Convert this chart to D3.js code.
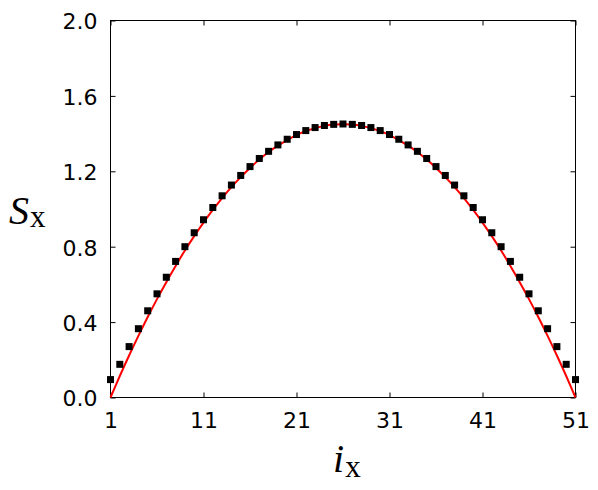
<!DOCTYPE html>
<html>
<head>
<meta charset="utf-8">
<script src="https://cdn.jsdelivr.net/npm/d3@7"></script>
<style>
html,body{margin:0;padding:0;background:#fff;}
svg{display:block;}
</style>
</head>
<body>
<svg id="chart" width="598" height="490"></svg>
<script>
// ---- data ----
const sites = d3.range(1, 52);   // i_x = 1..51
const pointValues = [
  0.095, 0.176, 0.270, 0.365, 0.460, 0.550, 0.638, 0.722, 0.800, 0.874,
  0.943, 1.008, 1.070, 1.127, 1.178, 1.225, 1.268, 1.306, 1.340, 1.370,
  1.395, 1.416, 1.432, 1.443, 1.449, 1.451, 1.449, 1.443, 1.432, 1.416,
  1.395, 1.370, 1.340, 1.306, 1.268, 1.225, 1.178, 1.127, 1.070, 1.008,
  0.943, 0.874, 0.800, 0.722, 0.638, 0.550, 0.460, 0.365, 0.270, 0.176,
  0.095
];
const curveValues = [
  0.000, 0.114, 0.223, 0.327, 0.427, 0.522, 0.612, 0.698, 0.780, 0.856,
  0.928, 0.995, 1.058, 1.116, 1.169, 1.218, 1.262, 1.302, 1.336, 1.366,
  1.392, 1.413, 1.429, 1.441, 1.448, 1.450, 1.448, 1.441, 1.429, 1.413,
  1.392, 1.366, 1.336, 1.302, 1.262, 1.218, 1.169, 1.116, 1.058, 0.995,
  0.928, 0.856, 0.780, 0.698, 0.612, 0.522, 0.427, 0.327, 0.223, 0.114,
  0.000
];
const xTicks = [1, 11, 21, 31, 41, 51];
const yTicks = [0.0, 0.4, 0.8, 1.2, 1.6, 2.0];

// ---- layout ----
const svg = d3.select("#chart");
const pLeft = 110.5, pRight = 575.5, pTop = 20.5, pBottom = 397.5;
const x = d3.scaleLinear().domain([1, 51]).range([pLeft, pRight]);
const y = d3.scaleLinear().domain([0, 2]).range([pBottom, pTop]);
const tickFont = "'DejaVu Sans', sans-serif";
const serif = "'Liberation Serif', 'Times New Roman', serif";

// axes (ticks inward, mirrored)
const tickLen = 5;
const axB = d3.axisBottom(x).tickValues(xTicks).tickSize(-tickLen).tickPadding(tickLen + 10).tickFormat(d3.format("d"));
const axT = d3.axisTop(x).tickValues(xTicks).tickSize(-tickLen).tickFormat("");
const axL = d3.axisLeft(y).tickValues(yTicks).tickSize(-tickLen).tickPadding(tickLen + 8).tickFormat(d3.format(".1f"));
const axR = d3.axisRight(y).tickValues(yTicks).tickSize(-tickLen).tickFormat("");

function style(g){
  g.select(".domain").remove();
  g.selectAll(".tick line").attr("stroke", "#000").attr("stroke-width", 1);
  g.selectAll("text").attr("font-family", tickFont).attr("font-size", 22).attr("fill", "#000");
}
const gB = svg.append("g").attr("transform", `translate(0,${pBottom})`).call(axB).call(style);
gB.selectAll("text").attr("dy", null).attr("y", 30.5);
svg.append("g").attr("transform", `translate(0,${pTop})`).call(axT).call(style);
const gL = svg.append("g").attr("transform", `translate(${pLeft},0)`).call(axL).call(style);
gL.selectAll("text").attr("dy", "8.3");
svg.append("g").attr("transform", `translate(${pRight},0)`).call(axR).call(style);

// frame
svg.append("rect")
  .attr("x", pLeft).attr("y", pTop)
  .attr("width", pRight - pLeft).attr("height", pBottom - pTop)
  .attr("fill", "none").attr("stroke", "#000").attr("stroke-width", 1);

// red curve
const line = d3.line()
  .x((d, i) => x(sites[i]))
  .y(d => y(d))
  .curve(d3.curveCatmullRom);
svg.append("path")
  .datum(curveValues)
  .attr("d", line)
  .attr("fill", "none")
  .attr("stroke", "#ff0000")
  .attr("stroke-width", 2);

// black square markers
const ms = 7;
svg.append("g").selectAll("rect")
  .data(pointValues)
  .join("rect")
  .attr("x", (d, i) => x(sites[i]) - ms / 2)
  .attr("y", d => y(d) - ms / 2)
  .attr("width", ms).attr("height", ms)
  .attr("fill", "#000");

// axis titles
const yl = svg.append("text")
  .attr("x", 9).attr("y", 224)
  .attr("font-family", serif).attr("font-size", 40).attr("fill", "#000");
yl.append("tspan").attr("font-style", "italic").text("S");
yl.append("tspan").attr("font-size", 31).attr("dy", 3).attr("dx", 1).text("x");

const xl = svg.append("text")
  .attr("x", 333).attr("y", 471.5)
  .attr("font-family", serif).attr("font-size", 40).attr("fill", "#000");
xl.append("tspan").attr("font-style", "italic").text("i");
xl.append("tspan").attr("font-size", 31).attr("dy", 5).attr("dx", 1).text("x");
</script>
</body>
</html>
